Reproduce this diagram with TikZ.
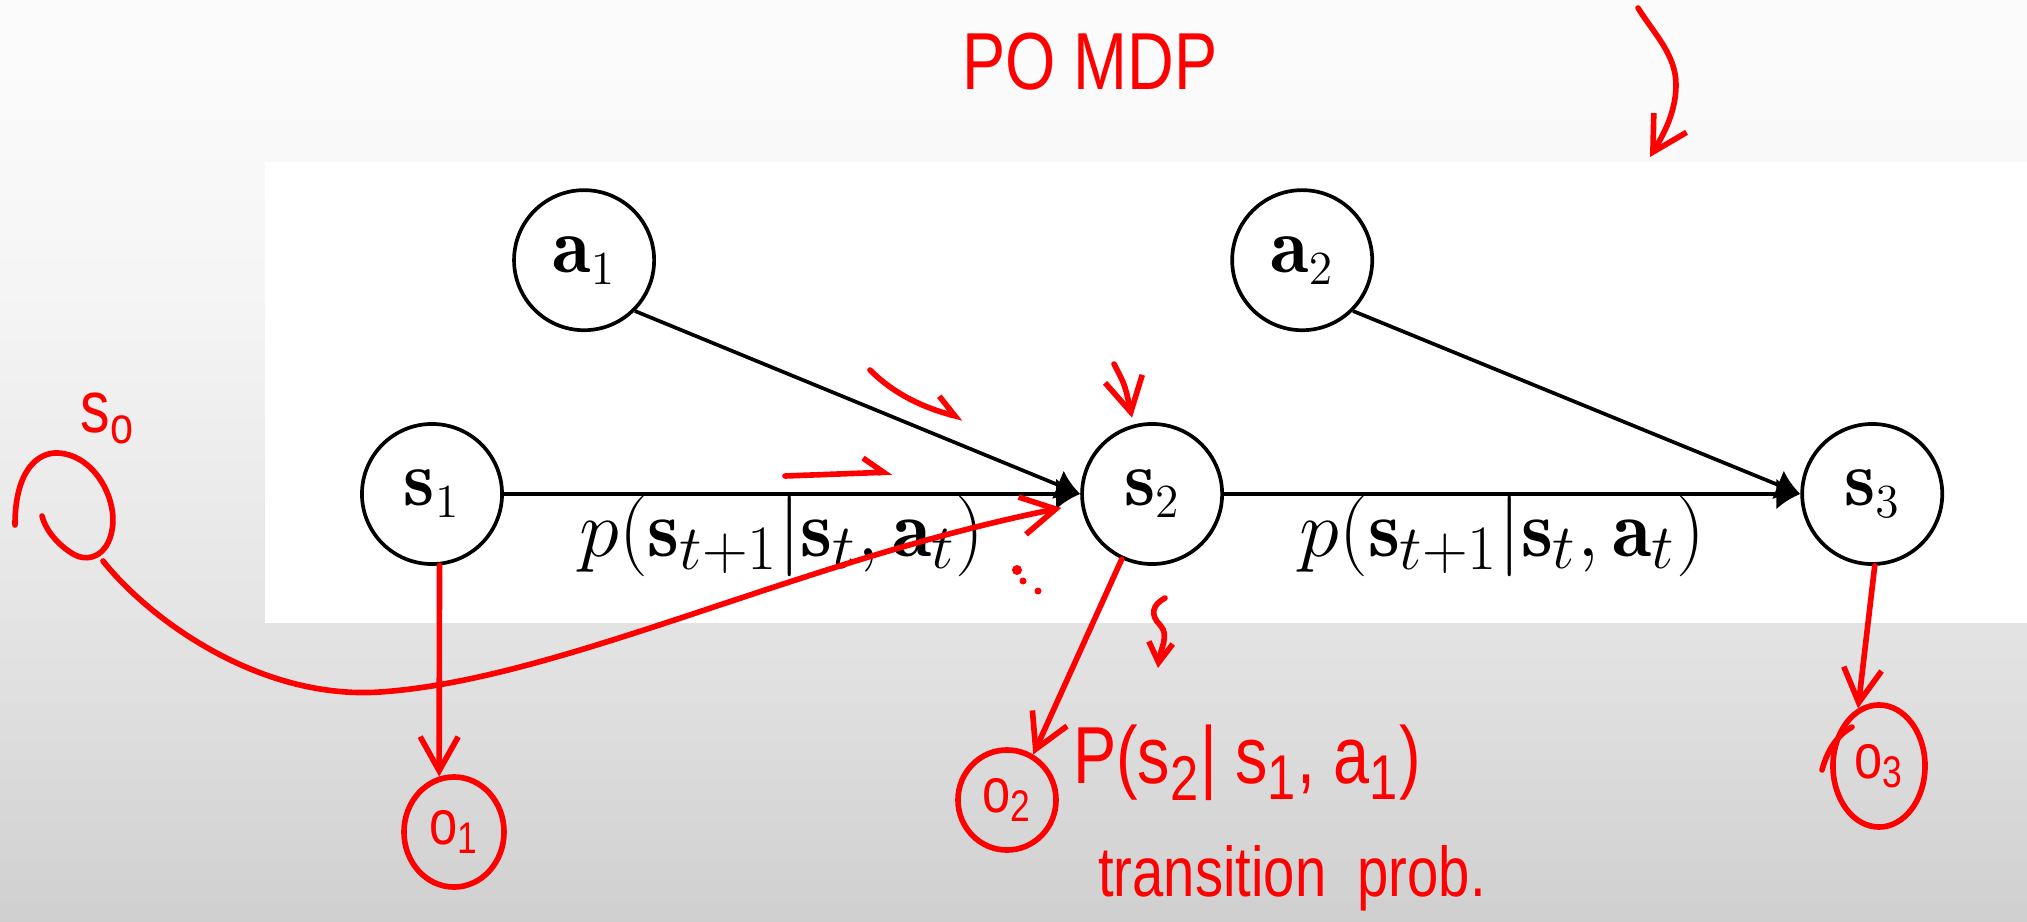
\RequirePackage{fix-cm}
\documentclass[tikz,border=0pt]{standalone}
\usepackage{fontspec}
\newfontfamily\hand{Liberation Sans}[FakeStretch=0.8]
\usepackage{tikz}
\usetikzlibrary{arrows.meta,positioning,shapes.geometric}
\DeclareMathSizes{23}{23}{18}{13}
\DeclareMathSizes{22.5}{22.5}{13.5}{10}
\begin{document}
\begin{tikzpicture}[x=0.01cm,y=-0.01cm,
var/.style={draw,circle,line width=1.05pt,minimum size=1.4cm,inner sep=0pt,font=\fontsize{22.5}{26}\selectfont},
link/.style={-{Latex[length=2.4mm,width=3.1mm]},line width=1.05pt},
lbl/.style={below=0pt,inner sep=0pt,font=\fontsize{23}{27}\selectfont},
pen/.style={red,line width=1.6pt,line cap=round,line join=round},
penarr/.style={pen,-{Straight Barb[length=3.4mm,width=3.8mm]}},
hook/.style={pen,-{Straight Barb[harpoon,length=2mm,width=3mm]}},
obs/.style={draw=red,ellipse,line width=1.6pt,inner sep=0pt,text=red,font=\hand\fontsize{18}{20}\selectfont},
note/.style={red,inner sep=0pt,font=\hand\fontsize{21}{24}\selectfont}]
\useasboundingbox (0,0) rectangle (2027,921);
\foreach \i in {0,...,46}{\pgfmathsetmacro\g{3+35*(\i/46)^1.6}\fill[gray!\g] (0,\i*20) rectangle (2027,\i*20+21);}
\fill[white] (265,162) rectangle (2027,623);
\node[var](s1) at (432,494) {$\mathbf{s}_1$};
\node[var,right=5.76cm of s1](s2) {$\mathbf{s}_2$};
\node[var,right=5.76cm of s2](s3) {$\mathbf{s}_3$};
\node[var,above=0.9cm of s1,xshift=1.52cm](a1) {$\mathbf{a}_1$};
\node[var,above=0.9cm of s2,xshift=1.5cm](a2) {$\mathbf{a}_2$};
\draw[link](s1)--node[lbl,xshift=-1mm]{$p\big(\mathbf{s}_{t+1}\big|\mathbf{s}_t,\mathbf{a}_t\big)$}(s2);
\draw[link](s2)--node[lbl,xshift=-1mm]{$p\big(\mathbf{s}_{t+1}\big|\mathbf{s}_t,\mathbf{a}_t\big)$}(s3);
\draw[link](a1.-45)--(s2.west);\draw[link](a2.-45)--(s3.west);
\node[obs,minimum width=1cm,minimum height=1.1cm](o1) at (454,832) {o\textsubscript{1}};
\node[obs,minimum width=0.98cm,minimum height=1cm](o2) at (1007,800) {o\textsubscript{2}};
\node[obs,minimum width=0.92cm,minimum height=1.22cm](o3) at (1879,766) {o\textsubscript{3}};
\node[note,font=\hand\fontsize{23}{26}\selectfont](title) at (1090,62) {PO MDP};
\node[note](s0lbl) at (108,418) {s\textsubscript{o}};
\node[note,font=\hand\fontsize{23}{26}\selectfont](trans) at (1247,763) {P(s\textsubscript{2}| s\textsubscript{1}, a\textsubscript{1})};
\node[note,font=\hand\fontsize{20}{24}\selectfont](prob) at (1292,878) {transition\ \ prob.};
\coordinate (s0) at (103,561);\coordinate (t0) at (1638,8);\coordinate (t1) at (1650,157);
\coordinate (p0) at (785,476);\coordinate (p1) at (892,472);
\coordinate (q0) at (870,370);\coordinate (q1) at (963,418);
\coordinate (r0) at (1114,364);\coordinate (u0) at (1165,598);\coordinate (u1) at (1158,668);
\draw[pen](15,525) .. controls (15,470) and (38,452) .. (58,453) .. controls (95,455) and (118,500) .. (112,530) .. controls (108,555) and (88,565) .. (70,552) .. controls (55,542) and (45,528) .. (42,516);
\draw[penarr,shorten >=2mm](s0) .. controls (150,620) and (260,700) .. (380,692) .. controls (560,680) and (800,560) .. (s2.188);
\draw[penarr](s1.-84)--(o1.105);\draw[penarr](s2.-115)--(o2.60);\draw[penarr](s3.-88)--(o3.110);
\draw[pen](1822,770) .. controls (1828,748) and (1838,735) .. (1852,727);
\draw[penarr](t0) .. controls (1655,35) and (1676,55) .. (1676,85) .. controls (1676,115) and (1660,140) .. (t1);
\draw[hook](p0)--(p1);
\draw[hook](q0) .. controls (895,395) and (925,408) .. (q1);
\draw[penarr,shorten >=0.7mm](r0) .. controls (1125,385) .. (s2.105);
\draw[pen,-{Straight Barb[length=2mm,width=2.4mm]}](u0) .. controls (1152,605) and (1150,615) .. (1160,625) .. controls (1170,635) and (1160,650) .. (u1);
\fill[red](1017,570) circle (0.5mm) (1023,581) circle (0.35mm) (1038,591) circle (0.35mm);
\end{tikzpicture}
\end{document}
